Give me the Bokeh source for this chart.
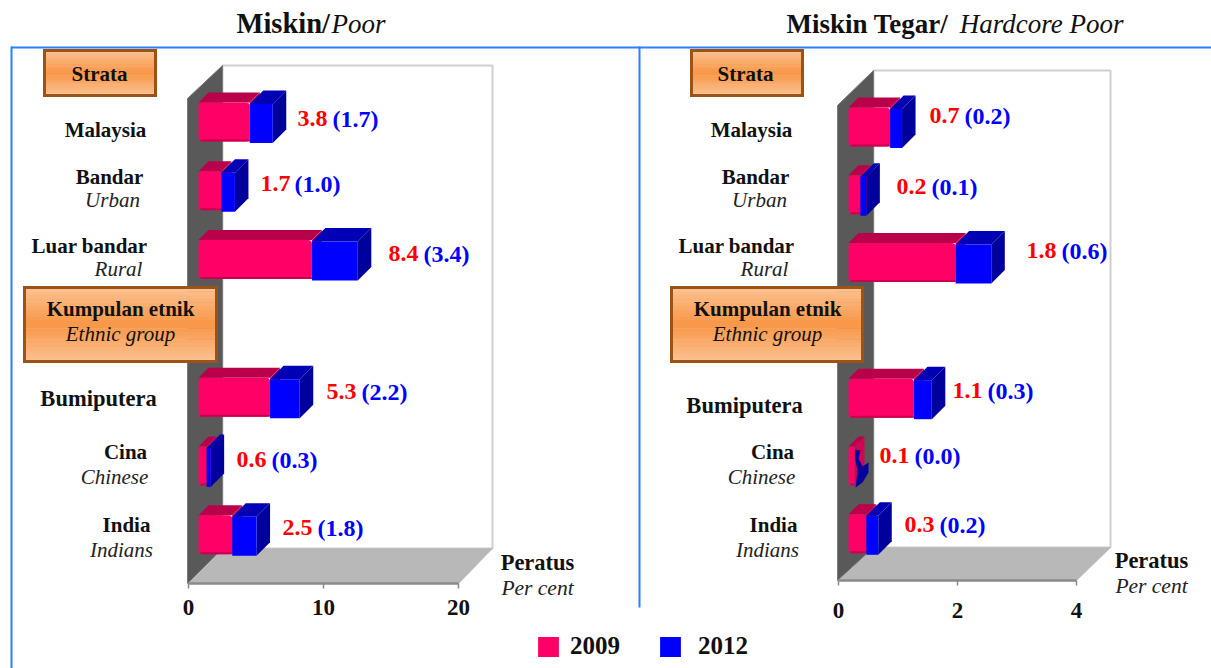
from bokeh.plotting import figure
from bokeh.models import Range1d, LinearAxis, FixedTicker, Legend, LegendItem
from bokeh.core.properties import value
from bokeh.embed import file_html
from bokeh.resources import INLINE

# ---------- data ----------
slots = [0, 1, 2, 4, 5, 6]          # position 3 is the "Kumpulan etnik" heading
poor_2009 = [3.8, 1.7, 8.4, 5.3, 0.6, 2.5]
poor_2012 = [1.7, 1.0, 3.4, 2.2, 0.3, 1.8]
hard_2009 = [0.7, 0.2, 1.8, 1.1, 0.1, 0.3]
hard_2012 = [0.2, 0.1, 0.6, 0.3, 0.0, 0.2]
cat_bold = ["Malaysia", "Bandar", "Luar bandar", "Bumiputera", "Cina", "India"]
cat_ital = ["", "Urban", "Rural", "", "Chinese", "Indians"]
years = ["2009", "2012"]
ticks_poor = [0, 10, 20]
ticks_hard = [0, 2, 4]

# ---------- style ----------
SERIF = "Liberation Serif"
PINK, PINK_TOP, PINK_LOW = "#ff0066", "#b8004b", "#c8004f"
BLUE, BLUE_SIDE, BLUE_TOP = "#0000ff", "#00009c", "#0000b4"
LINE = "#2a7fff"
BB, BI, VS, BW = "21px", "21px", "24px", "22.5px"
W, H = 1211, 668

p = figure(width=W, height=H, output_backend="svg", toolbar_location=None,
           x_axis_location=None, y_axis_location=None,
           x_range=Range1d(0, W), y_range=Range1d(H, 0),
           min_border_left=0, min_border_right=0, min_border_top=0, min_border_bottom=0,
           outline_line_color=None, background_fill_color="white", border_fill_color="white")
p.grid.visible = False


def gradient_box(x0, x1, y0, y1):
    def mix(a, b, t):
        return "#" + "".join(f"{round(a[i]+(b[i]-a[i])*t):02x}" for i in range(3))
    light, mid = (252, 194, 146), (247, 150, 70)
    n = 20
    for i in range(n):
        t = abs((i + .5) / n - .5) * 2
        ya = y0 + (y1 - y0) * i / n
        yb = y0 + (y1 - y0) * (i + 1) / n
        p.quad(left=[x0], right=[x1], top=[ya], bottom=[yb + .5], fill_color=mix(mid, light, t), line_color=None)
    p.quad(left=[x0], right=[x1], top=[y0], bottom=[y1], fill_color=None, line_color="#9c5318", line_width=3,
           line_join="miter")


def txt(x, y, s, color="#111111", style="bold", size=BB, align="center"):
    p.text(x=[x], y=[y - 1], text=[s], text_color=color, text_font=value(SERIF), text_font_style=style,
           text_font_size=size, text_align=align, text_baseline="middle")


def panel(name, bottom_px, zero_px, k, y0, step, ticks, v09, v12, geo):
    xr, yr = "x" + name, "y" + name
    p.extra_x_ranges[xr] = Range1d((0 - zero_px) / k, (W - zero_px) / k)
    p.extra_y_ranges[yr] = Range1d((H - y0) / step, (0 - y0) / step)

    # chart box
    bx0, bx1, by0, by1 = geo["back"]
    fx = zero_px
    fx1 = zero_px + ticks[-1] * k
    p.quad(left=[bx0], right=[bx1], top=[by0], bottom=[by1], fill_color="white", line_color="#cfcfcf", line_width=2)
    p.patch([fx, bx0, bx1, fx1], [bottom_px, by1, by1, bottom_px], fill_color="#b8b8b8", line_color="#bdbdbd")
    p.patch([fx - 1, bx0, bx0, fx - 1], [geo["wall_top"], by0, by1, bottom_px], fill_color="#595959", line_color="#7a7a7a")

    ax = LinearAxis(ticker=FixedTicker(ticks=ticks), bounds=(ticks[0], ticks[-1]),
                    x_range_name=xr, fixed_location=bottom_px)
    ax.axis_line_color = "#8a8a8a"
    ax.axis_line_width = 2.5
    ax.major_tick_line_color = "#8a8a8a"
    ax.major_tick_line_width = 1.5
    ax.major_tick_out = 5
    ax.major_tick_in = 0
    ax.minor_tick_out = 0
    ax.minor_tick_in = 0
    ax.major_label_text_font = SERIF
    ax.major_label_text_font_style = "bold"
    ax.major_label_text_font_size = "23px"
    ax.major_label_text_color = "#111111"
    ax.major_label_standoff = geo["standoff"]
    p.add_layout(ax, "below")

    # bars, stacked along x, drawn through the panel's data scales
    o = 10 / k
    h = 39 / step
    dp_x, dp_y = 10 / k, 10 / step
    db_x, db_y = 13.5 / k, 13.5 / step
    sh = 1.5 / step
    kw = dict(x_range_name=xr, y_range_name=yr, line_color=None)
    xa, xb, t09, b09, xc = [], [], [], [], []
    for s, a, b in zip(slots, v09, v12):
        xa.append(o)
        xb.append(o + a)
        t09.append(s - h / 2)
        b09.append(s + h / 2)
        xc.append(o + a + b)
    p.patches([[l, l + dp_x, r + dp_x, r] for l, r in zip(xa, xb)],
              [[t, t - dp_y, t - dp_y, t] for t in t09], fill_color=PINK_TOP, **kw)
    # end face of the pink part, visible where the blue part has no length
    p.patches([[r, r + dp_x, r + dp_x, r] for r in xb],
              [[t, t - dp_y, b - dp_y, b] for t, b in zip(t09, b09)], fill_color="#d40055", **kw)
    r09 = p.quad(left=xa, right=xb, top=t09, bottom=b09, fill_color=PINK, border_radius=4, **kw)
    p.quad(left=[x + 2 / k for x in xa], right=xb, top=[b - 2 / step for b in b09], bottom=b09, fill_color=PINK_LOW, **kw)
    tb = [t + sh for t in t09]
    bb = [b + sh for b in b09]
    keep = [i for i, b in enumerate(v12) if b > 0]
    p.patches([[xb[i], xb[i] + db_x, xc[i] + db_x, xc[i]] for i in keep],
              [[tb[i], tb[i] - db_y, tb[i] - db_y, tb[i]] for i in keep], fill_color=BLUE_TOP, **kw)
    p.patches([[xc[i], xc[i] + db_x, xc[i] + db_x, xc[i]] for i in keep],
              [[tb[i], tb[i] - db_y, bb[i] - db_y, bb[i]] for i in keep], fill_color=BLUE_SIDE, **kw)
    r12 = p.quad(left=xb, right=xc, top=tb, bottom=bb, fill_color=BLUE, **kw)
    if "blotch" in geo:
        p.patch(*geo["blotch"], fill_color=BLUE_SIDE, line_color=None)

    # value labels
    for (xr_, xb_, yv), a, b in zip(geo["vals"], v09, v12):
        txt(xr_, yv, f"{a:.1f}", "#ff0000", "bold", VS, "left")
        txt(xb_, yv, f"({b:.1f})", "#0000ff", "bold", VS, "left")

    # category labels
    for name_, sub, (xn, yn, xs_, ys_) in zip(cat_bold, cat_ital, geo["cats"]):
        txt(xn, yn, name_, size=BW if name_ == "Bumiputera" else BB)
        if sub:
            txt(xs_, ys_, sub, "#222222", "italic", BI)

    # headings
    for box, lab1, lab2 in geo["boxes"]:
        gradient_box(*box)
        txt(lab1[0], lab1[1], lab1[2])
        if lab2:
            txt(lab2[0], lab2[1], lab2[2], "#111111", "italic", BI)

    # title
    t1, t2, ts = geo["title"]
    txt(t1[0], 24, t1[1], "#111111", "bold", ts, "left")
    txt(t2[0], 24, t2[1], "#111111", "italic", "27px", "right")

    # unit label
    px_, py1, py2 = geo["unit"]
    txt(px_, py1, "Peratus", size=BW)
    txt(px_, py2, "Per cent", "#222222", "italic", "21.5px")
    return r09, r12


left_geo = dict(
    standoff=11, back=(222, 492, 65, 548), wall_top=98,
    vals=[(297, 332, 119), (260, 294, 184), (388, 423, 254), (326, 361, 392), (236, 271, 460), (282, 317, 528)],
    cats=[(105, 130, 0, 0), (109, 177, 112, 200), (89, 246, 118, 269), (98, 399, 0, 0), (125, 452, 114, 477), (126, 525, 121, 550)],
    boxes=[((44, 155, 50, 95), (99, 74, "Strata"), None),
           ((24, 216, 287, 361), (120, 309, "Kumpulan etnik"), (120, 334, "Ethnic group"))],
    title=((236, "Miskin/"), (385, "Poor"), "28.5px"), unit=(537, 563, 588))
right_geo = dict(
    standoff=17, back=(873, 1110, 70, 547), wall_top=105,
    vals=[(929, 964, 116), (896, 931, 187), (1026, 1061, 251), (952, 987, 391), (879, 914, 456), (904, 939, 525)],
    cats=[(751, 130, 0, 0), (755, 177, 759, 200), (736, 246, 764, 269), (744, 406, 0, 0), (772, 452, 761, 477), (773, 525, 767, 550)],
    boxes=[((691, 802, 50, 95), (745, 74, "Strata"), None),
           ((671, 862, 287, 361), (767, 309, "Kumpulan etnik"), (767, 334, "Ethnic group"))],
    title=((786, "Miskin Tegar/"), (1123, "Hardcore Poor"), "27px"), unit=(1151, 561, 586),
    blotch=([855, 860, 858, 862, 868, 868, 862, 855, 857, 855],
            [449, 450, 458, 466, 462, 472, 482, 487, 470, 460]))

l09, l12 = panel("L", 583, 188, 13.5, 121.5, 68.8, ticks_poor, poor_2009, poor_2012, left_geo)
panel("R", 580, 838, 59.5, 126.5, 67.8, ticks_hard, hard_2009, hard_2012, right_geo)

# frame lines
p.quad(left=[11], right=[W], top=[46], bottom=[48], fill_color=LINE, line_color=None)
p.quad(left=[10], right=[12], top=[46], bottom=[H], fill_color=LINE, line_color=None)
p.quad(left=[638], right=[640], top=[46], bottom=[607], fill_color=LINE, line_color=None)


def legend(rend, label, x, standoff):
    lg = Legend(items=[LegendItem(label=label, renderers=[rend])], location=(x, 8), orientation="horizontal",
                border_line_color=None, background_fill_alpha=0, glyph_width=26, glyph_height=25,
                label_standoff=standoff, label_text_font=SERIF, label_text_font_style="bold",
                label_text_font_size="25px", label_text_color="#111111", padding=0, margin=0, spacing=0)
    p.add_layout(lg, "center")


legend(l09, years[0], 535, 9)
legend(l12, years[1], 657, 15)

open("out.html", "w").write(file_html(p, INLINE))
